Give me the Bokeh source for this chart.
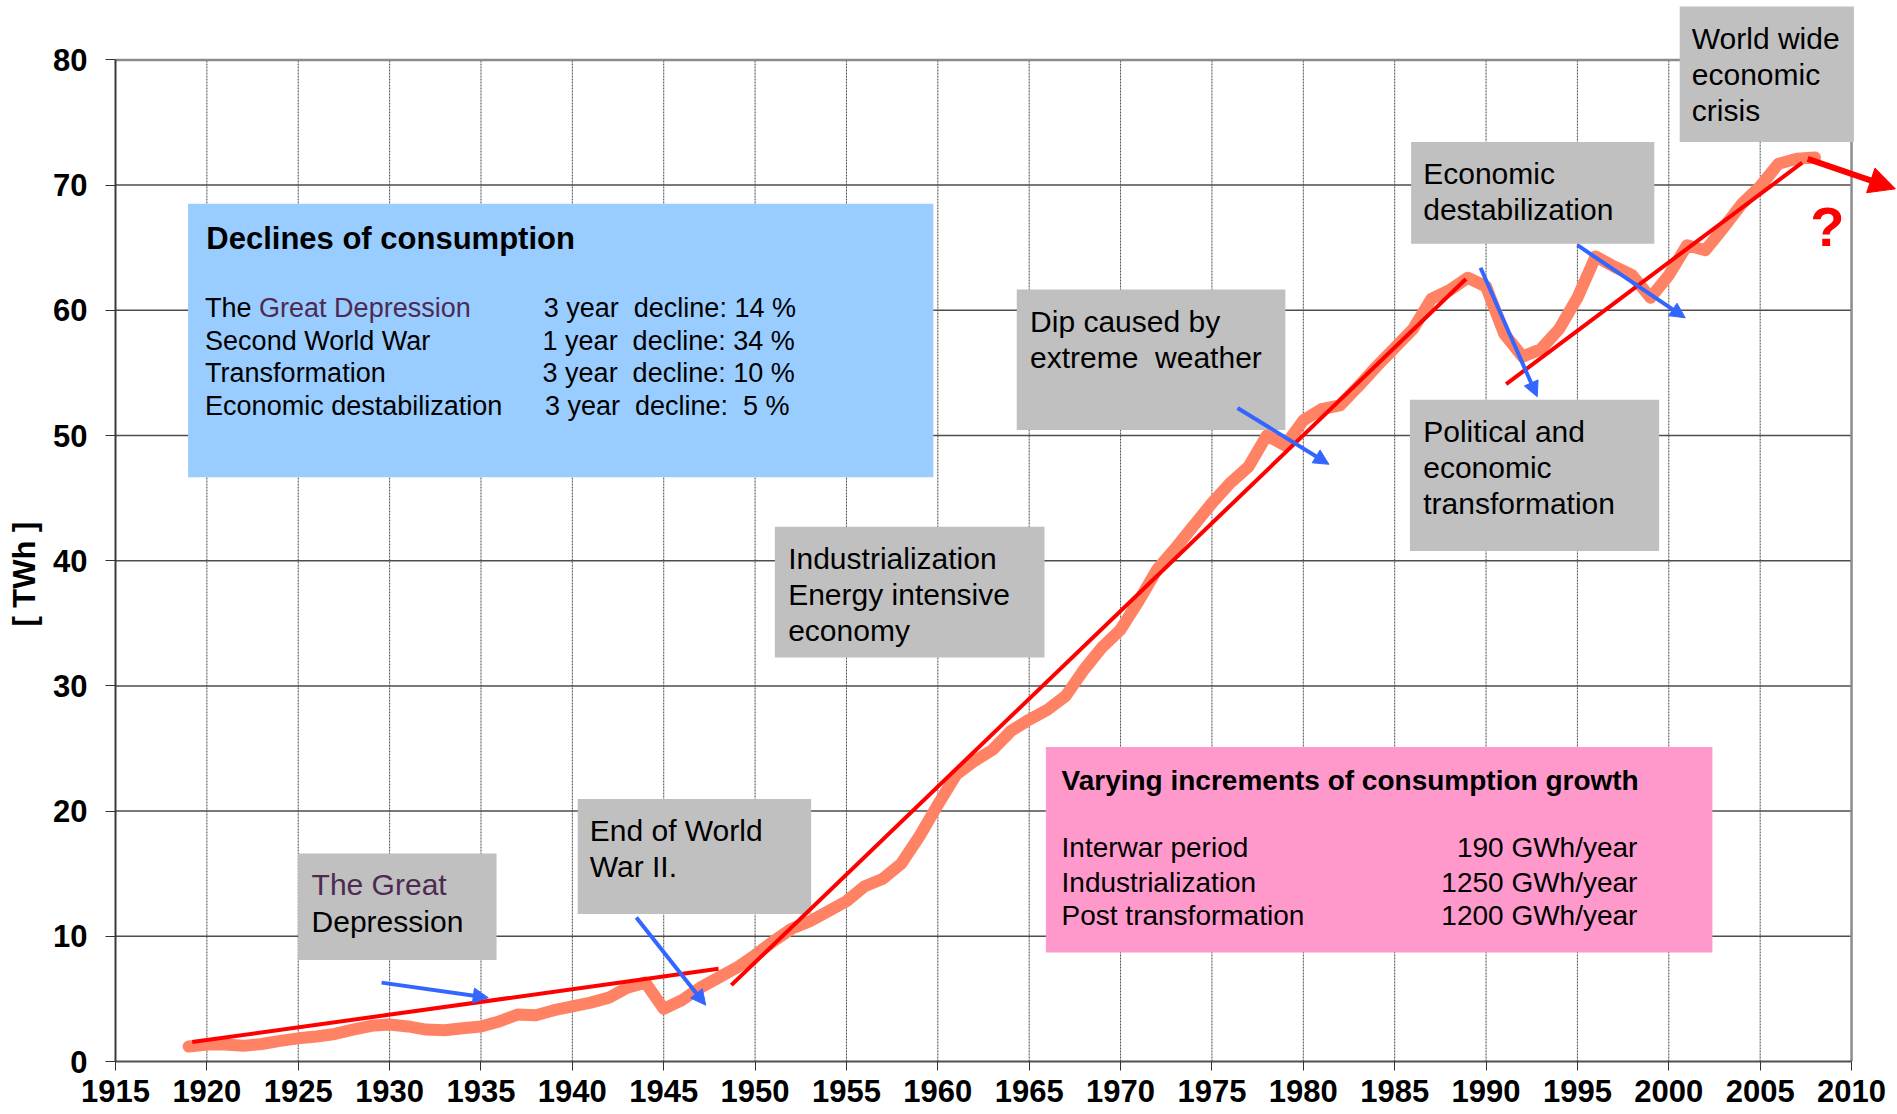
from bokeh.plotting import figure
from bokeh.models import Range1d, FixedTicker, Label, Arrow, NormalHead
from bokeh.embed import file_html
from bokeh.resources import INLINE

# ---------------- data ----------------
years = list(range(1919, 2009))
consumption = [
    1.2, 1.35, 1.35, 1.25, 1.4, 1.65, 1.85, 2.0, 2.2, 2.55,          # 1919-1928
    2.85, 2.95, 2.8, 2.55, 2.5, 2.65, 2.8, 3.2, 3.75, 3.7,           # 1929-1938
    4.1, 4.4, 4.7, 5.1, 5.9, 6.3, 4.2, 4.9, 5.9, 6.7,                # 1939-1948
    7.5, 8.5, 9.6, 10.6, 11.2, 12.0, 12.8, 14.0, 14.6, 15.8,         # 1949-1958
    18.0, 20.5, 22.9, 24.0, 24.9, 26.4, 27.3, 28.1, 29.2, 31.3,      # 1959-1968
    33.1, 34.5, 36.8, 39.3, 41.0, 42.8, 44.6, 46.2, 47.5, 50.0,      # 1969-1978
    49.2, 51.2, 52.1, 52.4, 53.9, 55.5, 57.0, 58.5, 60.9, 61.6,      # 1979-1988
    62.6, 61.9, 58.1, 56.3, 56.9, 58.5, 61.0, 64.3, 63.5, 62.8,      # 1989-1998
    61.0, 62.8, 65.2, 64.8, 66.6, 68.5, 69.9, 71.7, 72.1, 72.2,      # 1999-2008
]

x_ticks = list(range(1915, 2011, 5))
y_ticks = list(range(0, 81, 10))
y_title = "[ TWh ]"

# trend lines (interwar, industrialization, post transformation)
trend_x0 = [1919.2, 1948.7, 1991.1]
trend_y0 = [1.55, 6.1, 54.1]
trend_x1 = [1948.0, 1988.9, 2007.3]
trend_y1 = [7.4, 62.5, 71.8]

# blue pointer arrows
arrow_x0 = [1929.56, 1943.5, 1976.4, 1989.7, 1995.0]
arrow_y0 = [6.3, 11.5, 52.2, 63.4, 65.2]
arrow_x1 = [1935.4, 1947.3, 1981.4, 1992.8, 2000.9]
arrow_y1 = [5.1, 4.5, 47.7, 53.1, 59.4]

# outlook arrow
outlook_x = [2007.6, 2012.4]
outlook_y = [72.1, 69.7]

# ---------------- layout helpers (pixels -> data) ----------------
PX0, PPY = 114.9, 18.275
PY0, PPU = 1061.0, 12.52
W, H = 1897, 1114


def dx(px):
    return 1915 + (px - PX0) / PPY


def dy(py):
    return (PY0 - py) / PPU


FONT = "Liberation Sans"
NB = "\u00a0"

p = figure(width=W, height=H,
           x_range=Range1d(1915, dx(W)), y_range=Range1d(0, dy(0)),
           output_backend="svg", toolbar_location=None,
           min_border_left=115, min_border_right=0, min_border_top=0,
           min_border_bottom=H - 1061)
p.outline_line_color = None
p.xgrid.visible = False
p.ygrid.visible = False
p.background_fill_color = "white"
p.border_fill_color = "white"

# axes
p.xaxis.ticker = FixedTicker(ticks=x_ticks)
p.yaxis.ticker = FixedTicker(ticks=y_ticks)
p.xaxis.bounds = (1915, 2010)
p.yaxis.bounds = (0, 80)
p.xaxis.minor_tick_line_color = None
p.yaxis.minor_tick_line_color = None
p.xaxis.axis_line_color = "#505050"
p.xaxis.axis_line_width = 2
p.yaxis.axis_line_color = "#3a3a3a"
p.yaxis.axis_line_width = 2
p.xaxis.major_tick_line_color = "#303030"
p.yaxis.major_tick_line_color = "#303030"
p.xaxis.major_tick_in = 0
p.xaxis.major_tick_out = 9
p.yaxis.major_tick_in = 0
p.yaxis.major_tick_out = 10
p.xaxis.major_label_text_font = FONT
p.yaxis.major_label_text_font = FONT
p.xaxis.major_label_text_font_style = "bold"
p.yaxis.major_label_text_font_style = "bold"
p.xaxis.major_label_text_font_size = "31px"
p.yaxis.major_label_text_font_size = "31px"
p.xaxis.major_label_text_color = "black"
p.yaxis.major_label_text_color = "black"
p.xaxis.major_label_standoff = 9
p.yaxis.major_label_standoff = 18
# axis title; trailing no-break spaces move it down to where the original sits
p.yaxis.axis_label = y_title + NB * 10
p.yaxis.axis_label_text_font = FONT
p.yaxis.axis_label_text_font_style = "bold"
p.yaxis.axis_label_text_font_size = "31px"
p.yaxis.axis_label_text_color = "black"
p.yaxis.axis_label_standoff = 8

# grid lines
vx = x_ticks[1:-1]
p.segment(x0=vx, y0=[y_ticks[0]] * len(vx), x1=vx, y1=[y_ticks[-1]] * len(vx),
          line_color="#4a4a4a", line_width=1, line_dash="2 1")
hy = y_ticks[1:-1]
p.segment(x0=[x_ticks[0]] * len(hy), y0=hy, x1=[x_ticks[-1]] * len(hy), y1=hy,
          line_color="#4d4d4d", line_width=1.5)
# frame top / right
p.segment(x0=[x_ticks[0], x_ticks[-1]], y0=[y_ticks[-1], y_ticks[0]],
          x1=[x_ticks[-1], x_ticks[-1]], y1=[y_ticks[-1], y_ticks[-1]],
          line_color="#8c8c8c", line_width=2.5)

# boxes (pixel rectangles: left, right, top, bottom)
boxes = [
    (187.5, 932.8, 203.2, 476.7, "#99CCFF"),
    (1045.3, 1711.9, 746.4, 952.1, "#FF99CC"),
    (297.6, 496.0, 852.9, 959.4, "#C0C0C0"),
    (577.1, 810.6, 798.5, 913.4, "#C0C0C0"),
    (774.3, 1044.0, 526.3, 656.9, "#C0C0C0"),
    (1016.2, 1284.8, 289.1, 429.5, "#C0C0C0"),
    (1410.6, 1653.8, 141.5, 243.2, "#C0C0C0"),
    (1409.4, 1658.6, 399.2, 550.5, "#C0C0C0"),
    (1679.2, 1853.4, 6.0, 141.5, "#C0C0C0"),
]
p.quad(left=[dx(b[0]) for b in boxes], right=[dx(b[1]) for b in boxes],
       top=[dy(b[2]) for b in boxes], bottom=[dy(b[3]) for b in boxes],
       fill_color=[b[4] for b in boxes], line_color=None)

# consumption curve
p.line(years, consumption, line_color="#FF8264", line_width=12,
       line_join="round", line_cap="round")

# trend lines
p.segment(x0=trend_x0, y0=trend_y0, x1=trend_x1, y1=trend_y1,
          line_color="#FF0000", line_width=4)

# blue arrows
for xs, ys, xe, ye in zip(arrow_x0, arrow_y0, arrow_x1, arrow_y1):
    p.add_layout(Arrow(end=NormalHead(size=15, fill_color="#3366FF", line_color="#3366FF"),
                       x_start=xs, y_start=ys, x_end=xe, y_end=ye,
                       line_color="#3366FF", line_width=4))

# outlook arrow
p.add_layout(Arrow(end=NormalHead(size=26, fill_color="#FF0000", line_color="#FF0000"),
                   x_start=outlook_x[0], y_start=outlook_y[0],
                   x_end=outlook_x[1], y_end=outlook_y[1],
                   line_color="#FF0000", line_width=6))


def txt(px, py, s, size, bold=False, color="black", align="left"):
    p.add_layout(Label(x=dx(px), y=dy(py), text=s, text_font=FONT,
                       text_font_size=f"{size}px",
                       text_font_style="bold" if bold else "normal",
                       text_color=color, text_align=align,
                       text_baseline="middle"))


PURPLE = "#4D2A52"

# Declines box
txt(205.7, 238.3, "Declines of consumption", 31, bold=True)
txt(204.5, 307.3, "The ", 27)
txt(258.5, 307.3, "Great Depression", 27, color=PURPLE)
txt(204.5, 340.0, "Second World War", 27)
txt(204.5, 372.6, "Transformation", 27)
txt(204.5, 405.3, "Economic destabilization", 27)
txt(543.2, 307.3, f"3 year{NB} decline: 14 %", 27)
txt(542.0, 340.0, f"1 year{NB} decline: 34 %", 27)
txt(542.0, 372.6, f"3 year{NB} decline: 10 %", 27)
txt(544.4, 405.3, f"3 year{NB} decline:{NB} 5 %", 27)

# Growth box
txt(1061.0, 780.3, "Varying increments of consumption growth", 28, bold=True)
txt(1061.0, 846.9, "Interwar period", 28)
txt(1061.0, 882.0, "Industrialization", 28)
txt(1061.0, 914.6, "Post transformation", 28)
txt(1636.9, 846.9, "190 GWh/year", 28, align="right")
txt(1636.9, 882.0, "1250 GWh/year", 28, align="right")
txt(1636.9, 914.6, "1200 GWh/year", 28, align="right")

# gray boxes
txt(311.0, 884.4, "The Great", 30, color=PURPLE)
txt(311.0, 920.7, "Depression", 30)
txt(589.2, 830.0, "End of World", 30)
txt(589.2, 866.2, "War II.", 30)
txt(787.6, 557.7, "Industrialization", 30)
txt(787.6, 594.0, "Energy intensive", 30)
txt(787.6, 630.3, "economy", 30)
txt(1029.5, 320.6, "Dip caused by", 30)
txt(1029.5, 356.9, f"extreme{NB} weather", 30)
txt(1422.7, 173.0, "Economic", 30)
txt(1422.7, 209.3, "destabilization", 30)
txt(1422.7, 430.7, "Political and", 30)
txt(1422.7, 467.0, "economic", 30)
txt(1422.7, 503.3, "transformation", 30)
txt(1691.3, 37.5, "World wide", 30)
txt(1691.3, 73.8, "economic", 30)
txt(1691.3, 110.1, "crisis", 30)

# question mark
txt(1826.8, 226.2, "?", 56, bold=True, color="#FF0000", align="center")

open("out.html", "w").write(file_html(p, INLINE))
